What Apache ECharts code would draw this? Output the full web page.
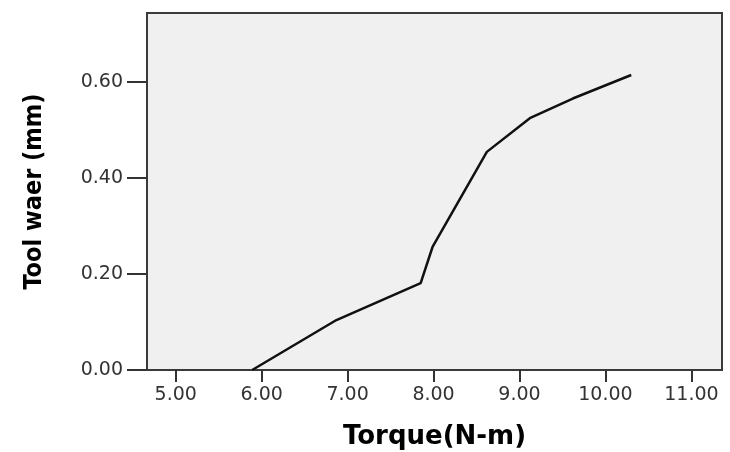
<!DOCTYPE html>
<html>
<head>
<meta charset="utf-8">
<script src="https://cdn.jsdelivr.net/npm/echarts@6/dist/echarts.min.js"></script>
<style>
html,body{margin:0;padding:0;background:#fff;}
#chart{width:730px;height:452px;}
</style>
</head>
<body>
<div id="chart"></div>
<script>
// Data
const torque = [5.89, 6.87, 7.85, 7.99, 8.62, 9.12, 9.62, 10.30];
const toolWear = [0.00, 0.104, 0.181, 0.257, 0.454, 0.524, 0.565, 0.614];
const xTicks = [5, 6, 7, 8, 9, 10, 11];
const yTicks = [0, 0.2, 0.4, 0.6];
const xTitle = 'Torque(N-m)';
const yTitle = 'Tool waer (mm)';

const points = torque.map((x, i) => [x, toolWear[i]]);

const chart = echarts.init(document.getElementById('chart'), null, {renderer: 'canvas'});
chart.setOption({
  animation: false,
  backgroundColor: '#ffffff',
  grid: {
    left: 147, right: 8, top: 13, bottom: 82,
    outerBoundsMode: 'none',
    containLabel: false,
    show: true,
    backgroundColor: '#f0f0f0',
    borderColor: '#3a3a3a',
    borderWidth: 2
  },
  xAxis: {
    type: 'value',
    min: 4.666, max: 11.356,
    name: xTitle,
    nameLocation: 'middle',
    nameGap: 54,
    nameTextStyle: {fontFamily: 'DejaVu Sans', fontWeight: 'bold', fontSize: 26, color: '#000'},
    axisLine: {show: true, onZero: false, lineStyle: {color: '#3a3a3a', width: 2}},
    axisTick: {show: true, inside: false, length: 12, customValues: xTicks, lineStyle: {color: '#333', width: 2}},
    axisLabel: {
      customValues: xTicks, margin: 16,
      fontFamily: 'DejaVu Sans', fontSize: 19, color: '#333',
      formatter: v => v.toFixed(2)
    },
    splitLine: {show: false}
  },
  yAxis: {
    type: 'value',
    min: 0, max: 0.743,
    name: yTitle,
    nameLocation: 'middle',
    nameGap: 100,
    nameTextStyle: {fontFamily: '"Liberation Sans Narrow", "DejaVu Sans Condensed", "DejaVu Sans", sans-serif', fontWeight: 'bold', fontSize: 25, color: '#000'},
    axisLine: {show: true, onZero: false, lineStyle: {color: '#3a3a3a', width: 2}},
    axisTick: {show: true, inside: false, length: 20, customValues: yTicks, lineStyle: {color: '#333', width: 2}},
    axisLabel: {
      customValues: yTicks, margin: 24,
      fontFamily: 'DejaVu Sans', fontSize: 19, color: '#333',
      formatter: v => v.toFixed(2)
    },
    splitLine: {show: false}
  },
  series: [{
    type: 'line',
    data: points,
    showSymbol: false,
    symbol: 'none',
    lineStyle: {color: '#111', width: 2.5},
    clip: true
  }]
});
</script>
</body>
</html>
